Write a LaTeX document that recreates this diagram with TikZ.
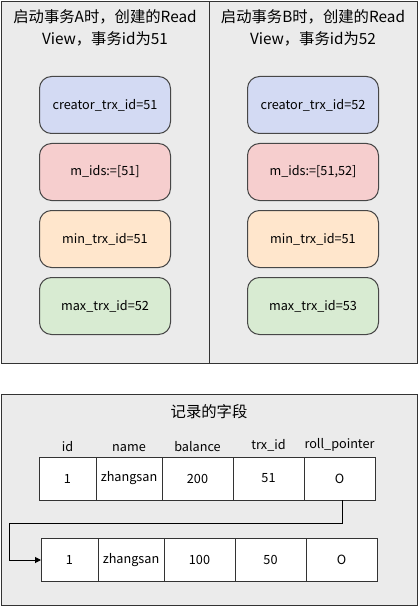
\documentclass[tikz,border=0pt]{standalone}
\usepackage{fontspec}
\setmainfont{Noto Sans CJK SC}
\usetikzlibrary{positioning, arrows.meta}
\definecolor{panelgray}{HTML}{EBEBEB}
\definecolor{edgegray}{HTML}{333333}
\definecolor{creatorblue}{HTML}{D3DAF3}
\definecolor{idsred}{HTML}{F6CECE}
\definecolor{minorange}{HTML}{FFE6CC}
\definecolor{maxgreen}{HTML}{D8EBD2}

\begin{document}
\begin{tikzpicture}[
    x=0.75pt, y=-0.75pt,
    node distance=6.75pt,
    panel/.style={
      rectangle, draw=edgegray, fill=panelgray, line width=0.75pt,
      anchor=north west, inner sep=0pt
    },
    heading/.style={
      align=center, font=\fontsize{11.5}{16.5}\selectfont
    },
    field/.style={
      rectangle, rounded corners=9pt, draw=edgegray!90, line width=0.75pt,
      minimum width=98.25pt, minimum height=42.75pt,
      font=\fontsize{9.5}{11}\selectfont
    },
    cell/.style={
      rectangle, draw=edgegray, fill=white, line width=0.75pt,
      minimum height=32.25pt, outer sep=0pt, inner sep=0pt,
      font=\fontsize{9.5}{11}\selectfont
    },
    colname/.style={font=\fontsize{9.5}{11}\selectfont, inner sep=0pt},
    link/.style={draw=black, line width=0.75pt, -{Triangle[length=4.5pt, width=4.5pt]}}
  ]
    \useasboundingbox (0,0) rectangle (418,606);

    \node[panel, minimum width=156pt, minimum height=271.5pt] (viewA) at (1,1) {};
    \node[panel, minimum width=156pt, minimum height=271.5pt] (viewB) at (209,1) {};
    \node[panel, minimum width=312pt, minimum height=158.25pt] (record) at (1,394) {};

    \node[heading] (titleA) at (105,28) {启动事务A时，创建的Read\\View，事务id为51};
    \node[heading] (titleB) at (313,28) {启动事务B时，创建的Read\\View，事务id为52};

    \node[field, fill=creatorblue] (creatorA) at (105,105) {creator\_trx\_id=51};
    \node[field, fill=idsred]      (idsA)  [below=of creatorA] {m\_ids:=[51]};
    \node[field, fill=minorange]   (minA)  [below=of idsA]     {min\_trx\_id=51};
    \node[field, fill=maxgreen]    (maxA)  [below=of minA]     {max\_trx\_id=52};

    \node[field, fill=creatorblue] (creatorB) at (313,105) {creator\_trx\_id=52};
    \node[field, fill=idsred]      (idsB)  [below=of creatorB] {m\_ids:=[51,52]};
    \node[field, fill=minorange]   (minB)  [below=of idsB]     {min\_trx\_id=51};
    \node[field, fill=maxgreen]    (maxB)  [below=of minB]     {max\_trx\_id=53};

    \node[heading] (recordTitle) at (209,412) {记录的字段};

    \node[cell, minimum width=42.75pt] (id1) at (67.5,478.5) {1};
    \node[cell, minimum width=49.5pt]  (name1)    [right=0pt of id1]      {zhangsan};
    \node[cell, minimum width=53.25pt] (balance1) [right=0pt of name1]    {200};
    \node[cell, minimum width=53.25pt] (trx1)     [right=0pt of balance1] {51};
    \node[cell, minimum width=53.25pt] (ptr1)     [right=0pt of trx1]     {O};

    \node[colname] (hId)      [above=4pt of id1]      {id};
    \node[colname] (hName)    [above=4pt of name1]    {name};
    \node[colname] (hBalance) [above=4pt of balance1] {balance};
    \node[colname] (hTrx)     [above=4pt of trx1]     {trx\_id};
    \node[colname] (hPtr)     [above=4pt of ptr1]     {roll\_pointer};

    \node[cell, minimum width=42.75pt] (id2) at (69.5,560) {1};
    \node[cell, minimum width=49.5pt]  (name2)    [right=0pt of id2]      {zhangsan};
    \node[cell, minimum width=53.25pt] (balance2) [right=0pt of name2]    {100};
    \node[cell, minimum width=53.25pt] (trx2)     [right=0pt of balance2] {50};
    \node[cell, minimum width=53.25pt] (ptr2)     [right=0pt of trx2]     {O};

    \coordinate (bend) at (9,523);
    \draw[link] ([xshift=2pt]ptr1.south) |- (bend) |- (id2.west);
  \end{tikzpicture}
\end{document}
